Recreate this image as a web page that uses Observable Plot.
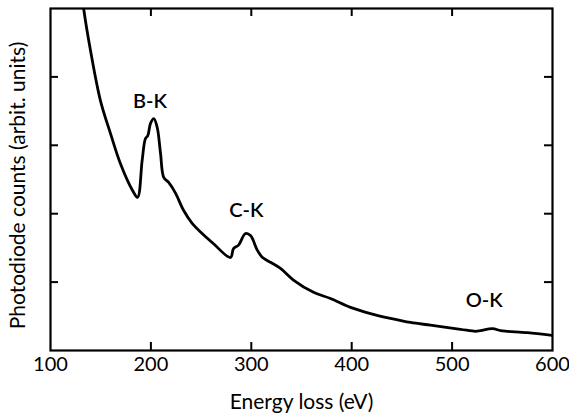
<!DOCTYPE html>
<html>
<head>
<meta charset="utf-8">
<script src="https://cdn.jsdelivr.net/npm/d3@7"></script>
<script src="https://cdn.jsdelivr.net/npm/@observablehq/plot@0.6"></script>
<style>
  html, body { margin: 0; padding: 0; background: #fff; }
  #chart svg { display: block; }
</style>
</head>
<body>
<div id="chart"></div>
<script>
const energy = [131, 133, 139.8, 149.8, 159.8, 169.7, 181.7, 186.7, 191.3, 194.6, 196.9, 199.6, 202.9, 206.3, 209.6, 212.8, 217.5, 224.5, 232.5, 241.1, 262.4, 279.3, 282.3, 287.3, 294.2, 299.2, 306.2, 311.2, 319.1, 329.1, 342, 362, 378.9, 398.8, 418.7, 438.6, 458.6, 478.5, 508.4, 523.3, 528.3, 540.2, 548.2, 555.2, 575.1, 600];
const counts = [5.25, 5.0, 4.39, 3.65, 3.17, 2.73, 2.34, 2.24, 2.78, 3.10, 3.14, 3.32, 3.39, 3.26, 2.88, 2.53, 2.46, 2.30, 2.05, 1.86, 1.56, 1.36, 1.49, 1.54, 1.71, 1.68, 1.46, 1.36, 1.29, 1.20, 1.03, 0.85, 0.76, 0.63, 0.54, 0.47, 0.41, 0.37, 0.31, 0.28, 0.29, 0.32, 0.29, 0.28, 0.26, 0.22];
const xTickLabels = [100, 200, 300, 400, 500, 600];
const xInnerTicks = [200, 300, 400, 500];
const yInnerTicks = [1, 2, 3, 4];
const edgeNames = ["B-K", "C-K", "O-K"];
const edgeX = [199, 295, 532];
const edgeY = [3.64, 2.04, 0.73];
const xTitle = "Energy loss (eV)";
const yTitle = "Photodiode counts (arbit. units)";

const data = energy.map((e, i) => ({e, c: counts[i]}));
const edges = edgeNames.map((n, i) => ({n, x: edgeX[i], y: edgeY[i]}));

const W = 569, H = 413;
const mL = 50, mR = 17, mT = 8, mB = 63;
const innerW = W - mL - mR, innerH = H - mT - mB;
const tl = 8;

const plot = Plot.plot({
  width: W, height: H,
  marginLeft: mL, marginRight: mR, marginTop: mT, marginBottom: mB,
  style: {fontFamily: "Lato, sans-serif", color: "#000", background: "#fff"},
  x: {domain: [100, 600]},
  y: {domain: [0, 5]},
  marks: [
    Plot.axisX({ticks: xTickLabels, tickSize: 0, tickPadding: 6, fontSize: 20, label: null}),
    Plot.axisX({ticks: [], tickSize: 0, fontSize: 21, label: xTitle, labelAnchor: "center", labelArrow: "none", labelOffset: 58}),
    Plot.axisY({ticks: [], tickSize: 0, label: null}),
    Plot.text([yTitle], {frameAnchor: "left", text: d => d, textAnchor: "middle", lineAnchor: "middle", rotate: -90, dx: -32.5, dy: 6, fontSize: 21, fill: "#000"}),
    Plot.tickX(xInnerTicks, {x: d => d, insetTop: innerH - tl, stroke: "#000", strokeWidth: 2}),
    Plot.tickX(xInnerTicks, {x: d => d, insetBottom: innerH - tl, stroke: "#000", strokeWidth: 2}),
    Plot.tickY(yInnerTicks, {y: d => d, insetRight: innerW - tl, stroke: "#000", strokeWidth: 2}),
    Plot.tickY(yInnerTicks, {y: d => d, insetLeft: innerW - tl, stroke: "#000", strokeWidth: 2}),
    Plot.line(data, {x: "e", y: "c", stroke: "#000", strokeWidth: 2.8, curve: "catmull-rom", clip: true}),
    Plot.text(edges, {x: "x", y: "y", text: "n", fontSize: 20, fontWeight: 600, fill: "#000"}),
    Plot.frame({stroke: "#000", strokeWidth: 2.2})
  ]
});
document.getElementById("chart").appendChild(plot);
</script>
</body>
</html>
